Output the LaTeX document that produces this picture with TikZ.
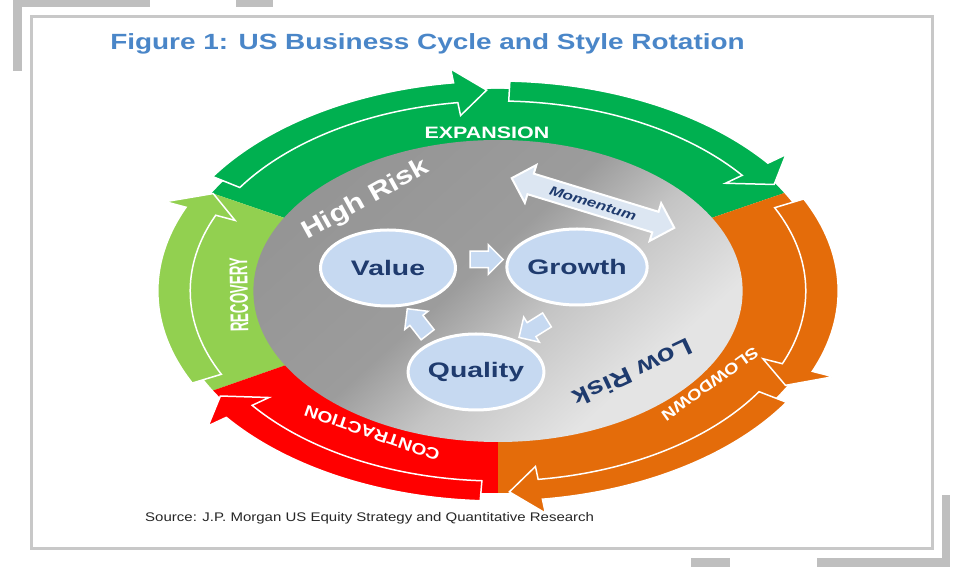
\documentclass[tikz,border=0pt]{standalone}
\usepackage{fontspec}
\setmainfont{Liberation Sans}
\usepackage{tikz}
\usetikzlibrary{calc,shapes.geometric,shapes.arrows}
\definecolor{expan}{HTML}{00B050}
\definecolor{recov}{HTML}{92D050}
\definecolor{contr}{HTML}{FF0000}
\definecolor{slowd}{HTML}{E46C0A}
\definecolor{titleblue}{HTML}{4A86C8}
\definecolor{navy}{HTML}{1F3B6E}
\definecolor{bubble}{HTML}{C6D9F1}
\definecolor{momfill}{HTML}{DCE6F2}
\definecolor{framegray}{HTML}{C8C8C8}
\definecolor{bargray}{HTML}{BFBFBF}
\definecolor{diskdark}{HTML}{8C8C8C}
\definecolor{diskmid}{HTML}{9C9C9C}
\definecolor{disktrans}{HTML}{C4C4C4}
\definecolor{disklite}{HTML}{E4E4E4}
\pgfdeclareverticalshading{diskshade}{100bp}{color(0bp)=(disklite); color(30bp)=(disklite); color(44bp)=(disktrans); color(54bp)=(diskmid); color(100bp)=(diskdark)}
\tikzset{
  cyc/.style={draw=white,line width=1.5pt,line join=miter},
  bandlbl/.style={text=white,inner sep=0pt},
  bubblenode/.style={ellipse,fill=bubble,draw=white,line width=3pt,minimum width=100pt,minimum height=76pt,inner sep=0pt,xscale=1.35,text=navy,font=\fontsize{21}{21}\selectfont\bfseries},
  blk/.style={single arrow,fill=bubble,draw=white,line width=1.5pt,inner sep=7.5pt,minimum height=33pt,single arrow head extend=6.5pt},
  momarrow/.style={double arrow,fill=momfill,draw=white,line width=2pt,minimum height=170pt,double arrow head extend=9pt,text height=9.5pt,text depth=0pt,inner xsep=2pt,inner ysep=5pt,text=navy,font=\fontsize{13}{13}\selectfont\bfseries\itshape}
}

\begin{document}
\begin{tikzpicture}[x=1pt,y=1pt]
\useasboundingbox (0,0) rectangle (960,567);
% corner bars and frame
\fill[bargray] (13,560) rectangle (150,567);
\fill[bargray] (13,496) rectangle (22,567);
\fill[bargray] (236,560) rectangle (273,567);
\fill[bargray] (942,0) rectangle (950,72);
\fill[bargray] (817,0) rectangle (950,9);
\fill[bargray] (691,0) rectangle (730,9);
\draw[framegray,line width=3pt] (31,19) rectangle (932,550);
% title and source
\node[anchor=west,text=titleblue,font=\fontsize{22}{22}\selectfont\bfseries,xscale=1.27,inner sep=0pt] (title) at (110,523) {Figure 1: US Business Cycle and Style Rotation};
\node[anchor=west,text=black!85,font=\fontsize{12.5}{12.5}\selectfont,xscale=1.2,inner sep=0pt] (src) at (145,49) {Source: J.P. Morgan US Equity Strategy and Quantitative Research};
% cycle ring
\begin{scope}[shift={(498,276)},xscale=1.62]
\fill[expan] (0,0) -- (29:202) arc[start angle=29,end angle=151,radius=202] -- cycle;
\fill[recov] (0,0) -- (151:202) arc[start angle=151,end angle=209.5,radius=202] -- cycle;
\fill[contr] (0,0) -- (209.5:202) arc[start angle=209.5,end angle=270,radius=202] -- cycle;
\fill[slowd] (0,0) -- (270:202) arc[start angle=270,end angle=389,radius=202] -- cycle;
\foreach \col/\t/\p in {recov/206/151,expan/147/92,expan/88/32,slowd/26/-28,slowd/-32/-88,contr/267/211.5}{
  \pgfmathsetmacro{\hb}{\p+5.5}
  \filldraw[cyc,fill=\col] (\t:210) arc[start angle=\t,end angle=\hb,radius=210] -- (\hb:224) -- (\p:201) -- (\hb:177) -- (\hb:190) arc[start angle=\hb,end angle=\t,radius=190] -- cycle;
}
\shade[shading=diskshade,shading angle=42] (0,0) circle[radius=151];
\end{scope}
% phase labels
\node[bandlbl,xscale=1.3,font=\fontsize{16.5}{16.5}\selectfont\bfseries] (expl) at (487,434) {EXPANSION};
\node[bandlbl,rotate=91,font=\fontsize{19}{19}\selectfont\bfseries] (recl) at (239,272) {\scalebox{0.7}[1.35]{RECOVERY}};
\node[bandlbl,rotate=161,font=\fontsize{16}{16}\selectfont\bfseries] (conl) at (372,134) {\scalebox{1.2}[1]{CONTRACTION}};
\node[bandlbl,rotate=215.5,font=\fontsize{15.5}{15.5}\selectfont\bfseries] (slol) at (710,183) {\scalebox{1.2}[1]{SLOWDOWN}};
\node[bandlbl,rotate=29,font=\fontsize{25}{25}\selectfont\bfseries] (high) at (366,367) {\scalebox{1.22}[1]{High Risk}};
\node[bandlbl,text=navy,rotate=205.2,font=\fontsize{24}{24}\selectfont\bfseries] (low) at (633,194) {\scalebox{1.22}[1]{Low Risk}};
% styles
\node[bubblenode] (value) at (388,299) {Value};
\node[bubblenode] (growth) at (577,300) {Growth};
\node[bubblenode] (quality) at (476,195) {Quality};
\node[blk] (vg) at ($(value)!0.5!(growth)+(0,8)$) {};
\node[blk,rotate=212] (gq) at ($(growth)!0.5!(quality)+(10,-7)$) {};
\node[blk,rotate=128] (qv) at ($(quality)!0.5!(value)+(-12,-5)$) {};
\node[momarrow,rotate=-17] (mom) at (593,364) {\scalebox{1.3}[1]{Momentum}};
\end{tikzpicture}
\end{document}
